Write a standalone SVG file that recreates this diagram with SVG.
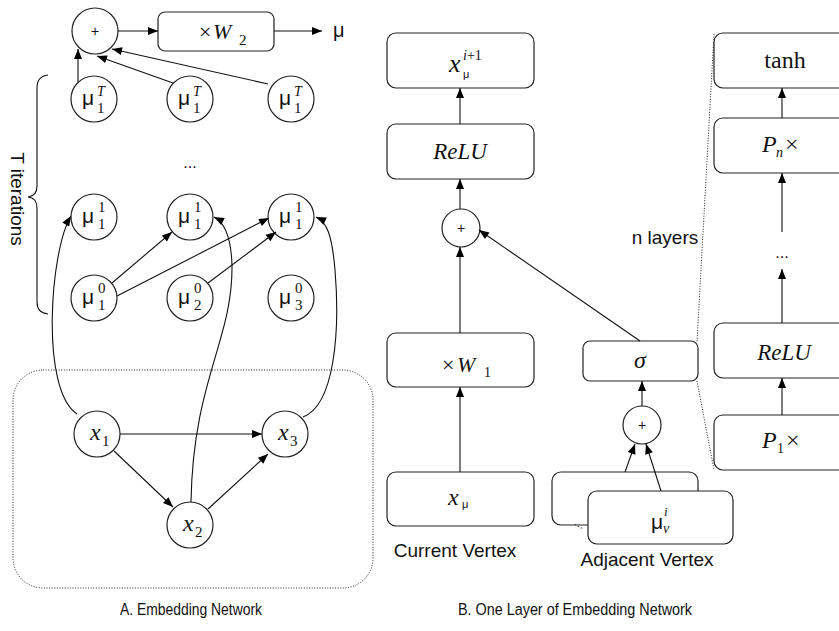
<svg xmlns="http://www.w3.org/2000/svg" width="839" height="631" viewBox="0 0 839 631">
<defs>
<marker id="ah" viewBox="0 0 10 10" refX="10" refY="5" markerWidth="11" markerHeight="10" markerUnits="userSpaceOnUse" orient="auto"><path d="M0,1 L10,5 L0,9 z" fill="#000"/></marker>
<style>
.nd{fill:#fff;stroke:#222;stroke-width:1.2}
.ln{fill:none;stroke:#111;stroke-width:1.1}
.ar{fill:none;stroke:#111;stroke-width:1.1;marker-end:url(#ah)}
.dot{fill:none;stroke:#222;stroke-width:1;stroke-dasharray:1 1.6}
.s{font-family:"Liberation Sans",Arial,sans-serif;fill:#111}
.m{font-family:"Liberation Serif","Times New Roman",serif;fill:#111}
.i{font-style:italic}
.mu{font-family:"Liberation Sans",Arial,sans-serif;font-size:21px}
</style>
</defs>
<rect width="839" height="631" fill="#fff"/>

<!-- Panel A -->
<rect id="group-box" x="13" y="370" width="360" height="218" rx="30" class="dot"/>
<path id="brace" class="ln" d="M48,75 Q37,76 37,88 L37,186 Q37,196 28,197 Q37,198 37,208 L37,302 Q37,313 48,314"/>
<text class="s" font-size="19" text-anchor="middle" dominant-baseline="central" transform="translate(17,199) rotate(90)">T iterations</text>

<g id="plus-top"><circle cx="95" cy="31" r="23" class="nd"/><text x="95" y="36" class="s" font-size="14" text-anchor="middle">+</text></g>
<g id="w2"><rect x="158" y="12" width="116" height="39" rx="7" class="nd"/><text class="m" font-size="22"><tspan x="199" y="39">×</tspan><tspan x="213" y="39" class="i">W</tspan><tspan x="239" y="45" font-size="15">2</tspan></text></g>
<g id="mu-out"><text x="333" y="37" class="s" font-size="20">μ</text></g>

<g id="muT1"><circle cx="94" cy="99" r="23" class="nd"/><text class="m"><tspan x="82" y="105" class="mu">μ</tspan><tspan x="97" y="96" class="i" font-size="14">T</tspan><tspan x="97" y="113" font-size="15">1</tspan></text></g>
<g id="muT2"><circle cx="190" cy="99" r="23" class="nd"/><text class="m"><tspan x="178" y="105" class="mu">μ</tspan><tspan x="193" y="96" class="i" font-size="14">T</tspan><tspan x="193" y="113" font-size="15">1</tspan></text></g>
<g id="muT3"><circle cx="291" cy="99" r="23" class="nd"/><text class="m"><tspan x="279" y="105" class="mu">μ</tspan><tspan x="294" y="96" class="i" font-size="14">T</tspan><tspan x="294" y="113" font-size="15">1</tspan></text></g>

<text x="190" y="168" class="s" font-size="16" text-anchor="middle">...</text>

<g id="mu11a"><circle cx="94" cy="217" r="23" class="nd"/><text class="m"><tspan x="82" y="223" class="mu">μ</tspan><tspan x="98" y="212" font-size="15">1</tspan><tspan x="98" y="229" font-size="15">1</tspan></text></g>
<g id="mu11b"><circle cx="190" cy="217" r="23" class="nd"/><text class="m"><tspan x="178" y="223" class="mu">μ</tspan><tspan x="194" y="212" font-size="15">1</tspan><tspan x="194" y="229" font-size="15">1</tspan></text></g>
<g id="mu11c"><circle cx="291" cy="217" r="23" class="nd"/><text class="m"><tspan x="279" y="223" class="mu">μ</tspan><tspan x="295" y="212" font-size="15">1</tspan><tspan x="295" y="229" font-size="15">1</tspan></text></g>

<g id="mu01"><circle cx="94" cy="298" r="23" class="nd"/><text class="m"><tspan x="82" y="304" class="mu">μ</tspan><tspan x="98" y="293" font-size="15">0</tspan><tspan x="98" y="310" font-size="15">1</tspan></text></g>
<g id="mu02"><circle cx="190" cy="298" r="23" class="nd"/><text class="m"><tspan x="178" y="304" class="mu">μ</tspan><tspan x="194" y="293" font-size="15">0</tspan><tspan x="194" y="310" font-size="15">2</tspan></text></g>
<g id="mu03"><circle cx="291" cy="298" r="23" class="nd"/><text class="m"><tspan x="279" y="304" class="mu">μ</tspan><tspan x="295" y="293" font-size="15">0</tspan><tspan x="295" y="310" font-size="15">3</tspan></text></g>

<g id="x1"><circle cx="97" cy="434" r="23" class="nd"/><text class="m"><tspan x="90" y="440" class="i" font-size="24">x</tspan><tspan x="102" y="446" font-size="15">1</tspan></text></g>
<g id="x3"><circle cx="285" cy="434" r="23" class="nd"/><text class="m"><tspan x="278" y="440" class="i" font-size="24">x</tspan><tspan x="290" y="446" font-size="15">3</tspan></text></g>
<g id="x2"><circle cx="190" cy="525" r="23" class="nd"/><text class="m"><tspan x="183" y="531" class="i" font-size="24">x</tspan><tspan x="195" y="537" font-size="15">2</tspan></text></g>

<text x="120" y="615" class="s" font-size="16" textLength="142" lengthAdjust="spacingAndGlyphs">A. Embedding Network</text>

<!-- Panel B -->
<g id="xnext"><rect x="387" y="33" width="147" height="55" rx="9" class="nd"/><text class="m"><tspan x="449" y="72" class="i" font-size="26">x</tspan><tspan x="463" y="60" font-size="14"><tspan class="i">i</tspan>+1</tspan><tspan x="463" y="78" class="s" font-size="11">μ</tspan></text></g>
<g id="relu1"><rect x="387" y="124" width="147" height="55" rx="9" class="nd"/><text x="460" y="159" class="m i" font-size="23" text-anchor="middle">ReLU</text></g>
<g id="plus-mid"><circle cx="461" cy="228" r="19" class="nd"/><text x="461" y="233" class="s" font-size="14" text-anchor="middle">+</text></g>
<g id="w1"><rect x="387" y="333" width="147" height="54" rx="9" class="nd"/><text class="m" font-size="22"><tspan x="442" y="372">×</tspan><tspan x="457" y="372" class="i">W</tspan><tspan x="484" y="377" font-size="14">1</tspan></text></g>
<g id="xmu"><rect x="387" y="472" width="147" height="54" rx="9" class="nd"/><text class="m"><tspan x="448" y="505" class="i" font-size="24">x</tspan><tspan x="462" y="508" class="s" font-size="11">μ</tspan></text></g>
<text x="455" y="557" class="s" font-size="19" text-anchor="middle">Current Vertex</text>

<g id="sigma"><rect x="583" y="341" width="115" height="40" rx="7" class="nd"/><text x="640" y="368" class="m i" font-size="24" text-anchor="middle">σ</text></g>
<g id="plus-adj"><circle cx="642" cy="425" r="19" class="nd"/><text x="642" y="430" class="s" font-size="14" text-anchor="middle">+</text></g>
<g id="adj-back"><rect x="552" y="472" width="146" height="53" rx="9" class="nd"/><text x="578" y="527" class="s" font-size="12" text-anchor="middle" transform="rotate(30 578 527)">...</text></g>
<g id="adj-front"><rect x="588" y="491" width="145" height="53" rx="9" class="nd"/><text class="m"><tspan x="651" y="529" class="mu">μ</tspan><tspan x="664" y="516" class="i" font-size="13">i</tspan><tspan x="663" y="533" class="i" font-size="14">ν</tspan></text></g>
<text x="647" y="566" class="s" font-size="19" text-anchor="middle">Adjacent Vertex</text>

<text x="665" y="244" class="s" font-size="19" text-anchor="middle">n layers</text>

<g id="tanh"><rect x="714" y="33" width="140" height="55" rx="9" class="nd"/><text x="785" y="68" class="m" font-size="24" text-anchor="middle">tanh</text></g>
<g id="pn"><rect x="714" y="118" width="140" height="55" rx="9" class="nd"/><text class="m"><tspan x="762" y="152" class="i" font-size="24">P</tspan><tspan x="776" y="157" class="i" font-size="14">n</tspan><tspan x="785" y="152" font-size="24">×</tspan></text></g>
<text x="782" y="258" class="s" font-size="16" text-anchor="middle">...</text>
<g id="relu2"><rect x="714" y="323" width="140" height="55" rx="9" class="nd"/><text x="784" y="360" class="m i" font-size="23" text-anchor="middle">ReLU</text></g>
<g id="p1"><rect x="714" y="415" width="140" height="55" rx="9" class="nd"/><text class="m"><tspan x="762" y="448" class="i" font-size="24">P</tspan><tspan x="777" y="453" font-size="14">1</tspan><tspan x="786" y="448" font-size="24">×</tspan></text></g>

<text x="458" y="615" class="s" font-size="16" textLength="234" lengthAdjust="spacingAndGlyphs">B. One Layer of Embedding Network</text>

<g id="connectors">
<line x1="118" y1="31" x2="158" y2="31" class="ar"/>
<line x1="274" y1="31" x2="322" y2="31" class="ar"/>
<line x1="78" y1="82" x2="78" y2="49" class="ar"/>
<line x1="173" y1="83" x2="97" y2="56" class="ar"/>
<line x1="268" y1="84" x2="112" y2="49" class="ar"/>
<line x1="112" y1="283" x2="172" y2="232" class="ar"/>
<line x1="117" y1="296" x2="269" y2="218" class="ar"/>
<line x1="208" y1="283" x2="276" y2="232" class="ar"/>
<path d="M77,414 C40,390 50,250 71,216" class="ar"/>
<path d="M191,502 C193,380 233,340 232,265 C231,235 224,222 214,217" class="ar"/>
<path d="M303,417 C335,405 340,330 335,270 C332,235 327,222 316,217" class="ar"/>
<line x1="120" y1="434" x2="262" y2="434" class="ar"/>
<line x1="114" y1="451" x2="173" y2="507" class="ar"/>
<line x1="208" y1="509" x2="268" y2="454" class="ar"/>

<line x1="460" y1="124" x2="460" y2="88" class="ar"/>
<line x1="460" y1="209" x2="460" y2="179" class="ar"/>
<line x1="460" y1="333" x2="460" y2="247" class="ar"/>
<line x1="460" y1="472" x2="460" y2="387" class="ar"/>
<line x1="640" y1="341" x2="479" y2="230" class="ar"/>
<line x1="642" y1="406" x2="642" y2="381" class="ar"/>
<line x1="625" y1="472" x2="635" y2="444" class="ar"/>
<line x1="661" y1="491" x2="646" y2="444" class="ar"/>

<line x1="782" y1="118" x2="782" y2="88" class="ar"/>
<line x1="782" y1="232" x2="782" y2="173" class="ar"/>
<line x1="782" y1="323" x2="782" y2="269" class="ar"/>
<line x1="782" y1="415" x2="782" y2="378" class="ar"/>
<line x1="714" y1="34" x2="697" y2="342" class="dot"/>
<line x1="697" y1="381" x2="714" y2="470" class="dot"/>
</g>
</svg>
